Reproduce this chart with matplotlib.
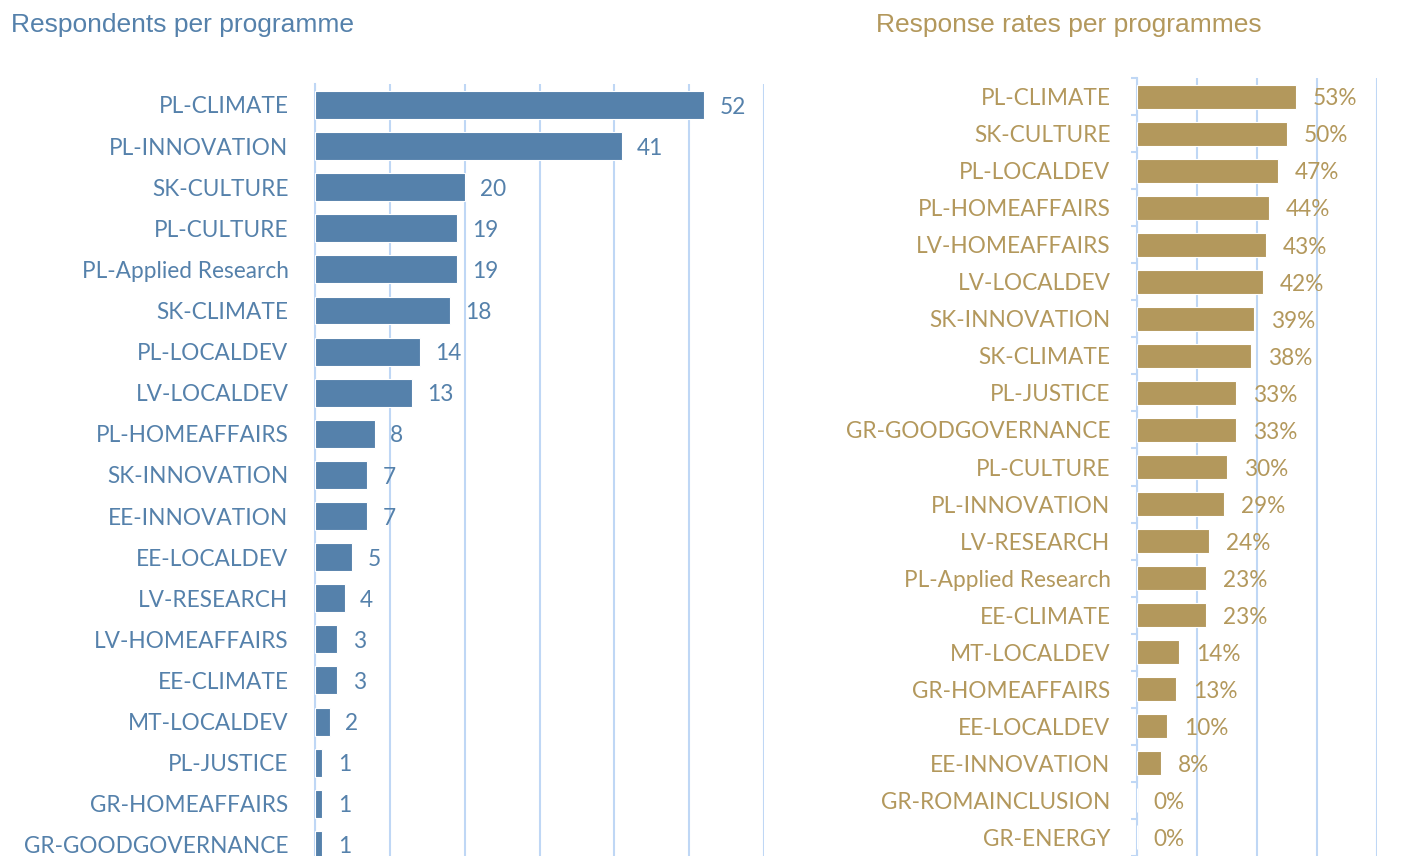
import numpy as np
import matplotlib.pyplot as plt

# Respondents per programme
resp_labels = ["PL-CLIMATE", "PL-INNOVATION", "SK-CULTURE", "PL-CULTURE", "PL-Applied Research",
               "SK-CLIMATE", "PL-LOCALDEV", "LV-LOCALDEV", "PL-HOMEAFFAIRS", "SK-INNOVATION",
               "EE-INNOVATION", "EE-LOCALDEV", "LV-RESEARCH", "LV-HOMEAFFAIRS", "EE-CLIMATE",
               "MT-LOCALDEV", "PL-JUSTICE", "GR-HOMEAFFAIRS", "GR-GOODGOVERNANCE"]
resp_values = [52, 41, 20, 19, 19, 18, 14, 13, 8, 7, 7, 5, 4, 3, 3, 2, 1, 1, 1]

# Response rates per programme (%)
rate_labels = ["PL-CLIMATE", "SK-CULTURE", "PL-LOCALDEV", "PL-HOMEAFFAIRS", "LV-HOMEAFFAIRS",
               "LV-LOCALDEV", "SK-INNOVATION", "SK-CLIMATE", "PL-JUSTICE", "GR-GOODGOVERNANCE",
               "PL-CULTURE", "PL-INNOVATION", "LV-RESEARCH", "PL-Applied Research", "EE-CLIMATE",
               "MT-LOCALDEV", "GR-HOMEAFFAIRS", "EE-LOCALDEV", "EE-INNOVATION", "GR-ROMAINCLUSION",
               "GR-ENERGY"]
rate_values = [53, 50, 47, 44, 43, 42, 39, 38, 33, 33, 30, 29, 24, 23, 23, 14, 13, 10, 8, 0, 0]

blue = "#5581AB"
gold = "#B3985C"
grid_c = "#BFD7F5"
W, H = 1427, 856

fig = plt.figure(figsize=(W / 100, H / 100), dpi=100)
lab_font = "Lato"
lab_size = 16.3


def box(x0, y0, x1, y1):
    # pixel box -> figure fraction
    return [x0 / W, 1 - y1 / H, (x1 - x0) / W, (y1 - y0) / H]


# left chart
ax1 = fig.add_axes(box(315, 84, 764, 856))
y1 = np.arange(len(resp_labels))
ax1.barh(y1, resp_values, height=0.68, color=blue, edgecolor="white", linewidth=0.8, zorder=3)
ax1.set_xlim(0, 60)
ax1.set_ylim(18.27, -0.51)
ax1.set_xticks(np.arange(0, 61, 10))
ax1.xaxis.grid(True, color=grid_c, linewidth=1.5, zorder=0)
ax1.tick_params(axis="x", length=0, labelbottom=False)
ax1.set_yticks(y1)
ax1.set_yticklabels(resp_labels, fontsize=lab_size, color=blue, fontfamily=lab_font)
ax1.tick_params(axis="y", length=0, pad=19)
for s in ["top", "right", "bottom"]:
    ax1.spines[s].set_visible(False)
ax1.spines["left"].set_color(grid_c)
ax1.spines["left"].set_linewidth(1.5)
for yy, v in zip(y1, resp_values):
    ax1.annotate(str(v), (v, yy), xytext=(11, -1.5), textcoords="offset points",
                 va="center", ha="left", fontsize=lab_size, color=blue, fontfamily=lab_font)
fig.text(11 / W, 1 - 25 / H, "Respondents per programme", fontsize=19, color=blue,
         fontfamily="Liberation Sans", va="center", ha="left")

# right chart
ax2 = fig.add_axes(box(1137, 78, 1377, 856))
y2 = np.arange(len(rate_labels))
ax2.barh(y2, rate_values, height=0.66, color=gold, edgecolor="white", linewidth=0.8, zorder=3)
ax2.set_xlim(0, 80)
ax2.set_ylim(20.51, -0.51)
ax2.set_xticks(np.arange(0, 81, 20))
ax2.xaxis.grid(True, color=grid_c, linewidth=1.5, zorder=0)
ax2.tick_params(axis="x", length=0, labelbottom=False)
ax2.set_yticks(y2)
ax2.set_yticklabels(rate_labels, fontsize=lab_size, color=gold, fontfamily=lab_font)
ax2.tick_params(axis="y", length=0, pad=19)
ax2.set_yticks(np.arange(-0.5, len(rate_labels), 1), minor=True)
ax2.tick_params(axis="y", which="minor", length=4, color=grid_c, width=1.5)
for s in ["top", "right", "bottom"]:
    ax2.spines[s].set_visible(False)
ax2.spines["left"].set_color(grid_c)
ax2.spines["left"].set_linewidth(1.5)
for yy, v in zip(y2, rate_values):
    ax2.annotate(f"{v}%", (v, yy), xytext=(12, -1.5), textcoords="offset points",
                 va="center", ha="left", fontsize=lab_size, color=gold, fontfamily=lab_font)
fig.text(876 / W, 1 - 25 / H, "Response rates per programmes", fontsize=19, color=gold,
         fontfamily="Liberation Sans", va="center", ha="left")

fig.savefig("out.png", dpi=100)
